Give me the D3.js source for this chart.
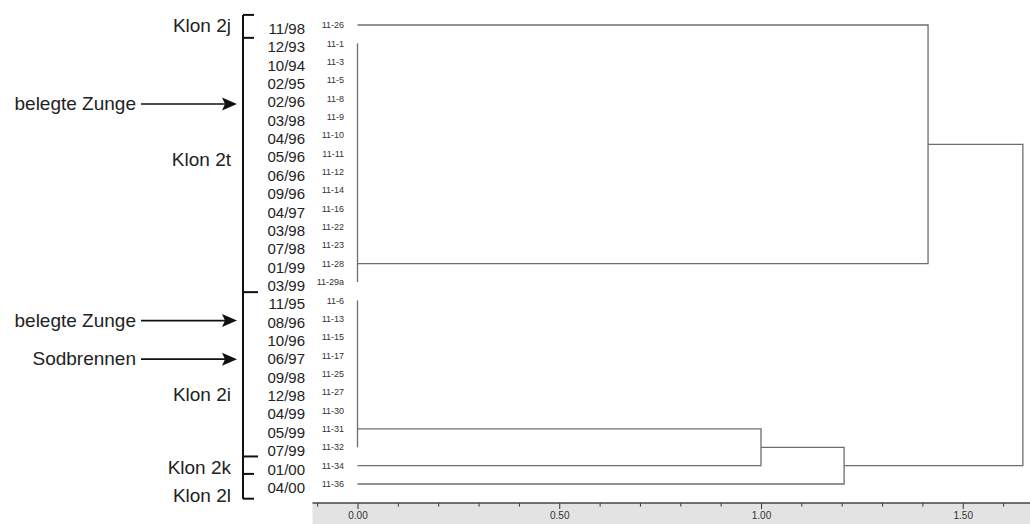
<!DOCTYPE html>
<html>
<head>
<meta charset="utf-8">
<script src="https://cdn.jsdelivr.net/npm/d3@7"></script>
<style>
  html, body { margin: 0; padding: 0; background: #fff; }
  svg { display: block; }
  text { font-family: "Liberation Sans", Arial, sans-serif; }
</style>
</head>
<body>
<svg id="chart" width="1030" height="524"></svg>
<script>
// Isolates, top to bottom
const leafIds = ["11-26", "11-1", "11-3", "11-5", "11-8", "11-9", "11-10", "11-11", "11-12",
  "11-14", "11-16", "11-22", "11-23", "11-28", "11-29a", "11-6", "11-13", "11-15", "11-17",
  "11-25", "11-27", "11-30", "11-31", "11-32", "11-34", "11-36"];
const leafDates = ["11/98", "12/93", "10/94", "02/95", "02/96", "03/98", "04/96", "05/96", "06/96",
  "09/96", "04/97", "03/98", "07/98", "01/99", "03/99", "11/95", "08/96", "10/96", "06/97",
  "09/98", "12/98", "04/99", "05/99", "07/99", "01/00", "04/00"];

// Identical groups (distance 0): members and the leaf their link leaves from
const groupNames = ["g2t", "g2i"];
const groupMembers = [
  ["11-1", "11-3", "11-5", "11-8", "11-9", "11-10", "11-11", "11-12", "11-14", "11-16", "11-22", "11-23", "11-28", "11-29a"],
  ["11-6", "11-13", "11-15", "11-17", "11-25", "11-27", "11-30", "11-31", "11-32"]
];
const groupAnchor = ["11-28", "11-31"];

// Merges: node name, left child, right child, distance
const mergeNames = ["nA", "nB", "nC", "root"];
const mergeLeft = ["11-26", "g2i", "nB", "nA"];
const mergeRight = ["g2t", "11-34", "11-36", "nC"];
const mergeHeight = [1.414, 1.000, 1.206, 1.649];

// Axis ticks
const tickValues = [-0.1, 0, 0.1, 0.2, 0.3, 0.4, 0.5, 0.6, 0.7, 0.8, 0.9, 1.0, 1.1, 1.2, 1.3, 1.4, 1.5, 1.6];
const labelledTicks = [0, 0.5, 1.0, 1.5];

// Clone brackets and annotations
const cloneNames = ["Klon 2j", "Klon 2t", "Klon 2i", "Klon 2k", "Klon 2l"];
const cloneLabelLeaf = [0, 7.3, 20.1, 24.1, 25.6];
const bracketBreaks = [-0.55, 0.7, 14.55, 23.5, 24.45, 25.8];
const noteTexts = ["belegte Zunge", "belegte Zunge", "Sodbrennen"];
const noteLeaf = [4.3, 16.1, 18.2];

const svg = d3.select("#chart");

const x = d3.scaleLinear().domain([0, 1.6]).range([357.5, 357.5 + 1.6 * 403.5]);
const y = d3.scaleLinear().domain([0, leafIds.length - 1]).range([25, 484]);
const leafIndex = new Map(leafIds.map((d, i) => [d, i]));

// Position of every node: x from distance, y from children
const pos = new Map();
leafIds.forEach((id, i) => pos.set(id, { x: x(0), y: y(i) }));
groupNames.forEach((g, i) => {
  const ys = groupMembers[i].map(m => y(leafIndex.get(m)));
  pos.set(g, { x: x(0), y: y(leafIndex.get(groupAnchor[i])), y0: d3.min(ys), y1: d3.max(ys) });
});
mergeNames.forEach((n, i) => {
  const a = pos.get(mergeLeft[i]), b = pos.get(mergeRight[i]);
  pos.set(n, { x: x(mergeHeight[i]), y: (a.y + b.y) / 2, ya: a.y, yb: b.y, xa: a.x, xb: b.x });
});

// Grey axis band
svg.append("rect")
  .attr("x", 312.5).attr("y", 503).attr("width", 1030 - 312.5).attr("height", 21)
  .attr("fill", "#e3e3e3");

const tree = svg.append("g")
  .attr("fill", "none").attr("stroke", "#6e6e6e").attr("stroke-width", 1.3);

// Vertical bars of identical groups
groupNames.forEach(g => {
  const p = pos.get(g);
  tree.append("line").attr("x1", p.x).attr("x2", p.x).attr("y1", p.y0).attr("y2", p.y1);
});

// Elbow links of every merge
mergeNames.forEach(n => {
  const p = pos.get(n);
  tree.append("path")
    .attr("d", `M${p.xa},${p.ya}H${p.x}V${p.yb}H${p.xb}`);
});

// Leaf labels: isolate ids and sampling dates
const labels = svg.append("g");
labels.selectAll("text.id").data(leafIds).join("text")
  .attr("class", "id")
  .attr("x", 344).attr("y", (d, i) => y(i)).attr("dy", "0.35em")
  .attr("text-anchor", "end").attr("font-size", 9).attr("fill", "#333")
  .text(d => d);
labels.selectAll("text.date").data(leafDates).join("text")
  .attr("class", "date")
  .attr("x", 305).attr("y", (d, i) => y(i) + 3.5).attr("dy", "0.36em")
  .attr("text-anchor", "end").attr("font-size", 15).attr("fill", "#222")
  .text(d => d);

// Clone bracket
const br = svg.append("g").attr("stroke", "#111").attr("stroke-width", 2);
const bracketY = bracketBreaks.map(v => y(v));
br.append("line").attr("x1", 243).attr("x2", 243)
  .attr("y1", bracketY[0]).attr("y2", bracketY[bracketY.length - 1]);
bracketY.forEach((by, i) => {
  const long = i === 2 || i === 3;
  br.append("line").attr("x1", 243).attr("x2", long ? 258 : 254).attr("y1", by).attr("y2", by);
});
svg.selectAll("text.clone").data(cloneNames).join("text")
  .attr("class", "clone")
  .attr("x", 231).attr("y", (d, i) => y(cloneLabelLeaf[i])).attr("dy", "0.36em")
  .attr("text-anchor", "end").attr("font-size", 19).attr("fill", "#222")
  .text(d => d);

// Symptom annotations with arrows
const notes = svg.append("g");
noteTexts.forEach((t, i) => {
  const ny = y(noteLeaf[i]);
  notes.append("text")
    .attr("x", 136).attr("y", ny).attr("dy", "0.33em")
    .attr("text-anchor", "end").attr("font-size", 19).attr("fill", "#222")
    .text(t);
  notes.append("line").attr("x1", 141).attr("x2", 226).attr("y1", ny).attr("y2", ny)
    .attr("stroke", "#111").attr("stroke-width", 1.6);
  notes.append("path")
    .attr("d", `M237,${ny}L222,${ny - 6.5}L225,${ny}L222,${ny + 6.5}Z`)
    .attr("fill", "#111");
});

// Distance axis
const axis = d3.axisBottom(x)
  .tickValues(tickValues)
  .tickSize(4)
  .tickFormat(d => labelledTicks.some(v => Math.abs(v - d) < 1e-9) ? d3.format(".2f")(d) : "");
const ax = svg.append("g").attr("transform", "translate(0,503)").call(axis);
ax.select(".domain").remove();
ax.append("line").attr("x1", 312.5).attr("x2", 1030).attr("y1", 0).attr("y2", 0)
  .attr("stroke", "#444").attr("stroke-width", 1.5);
ax.selectAll(".tick line").attr("stroke", "#333")
  .attr("y2", d => labelledTicks.some(v => Math.abs(v - d) < 1e-9) ? 6 : 3.5);
ax.selectAll(".tick text")
  .attr("y", 9).attr("fill", "#333")
  .attr("font-family", "'Liberation Sans Narrow', 'Arial Narrow', 'Liberation Sans', sans-serif")
  .attr("font-size", 10);
</script>
</body>
</html>
